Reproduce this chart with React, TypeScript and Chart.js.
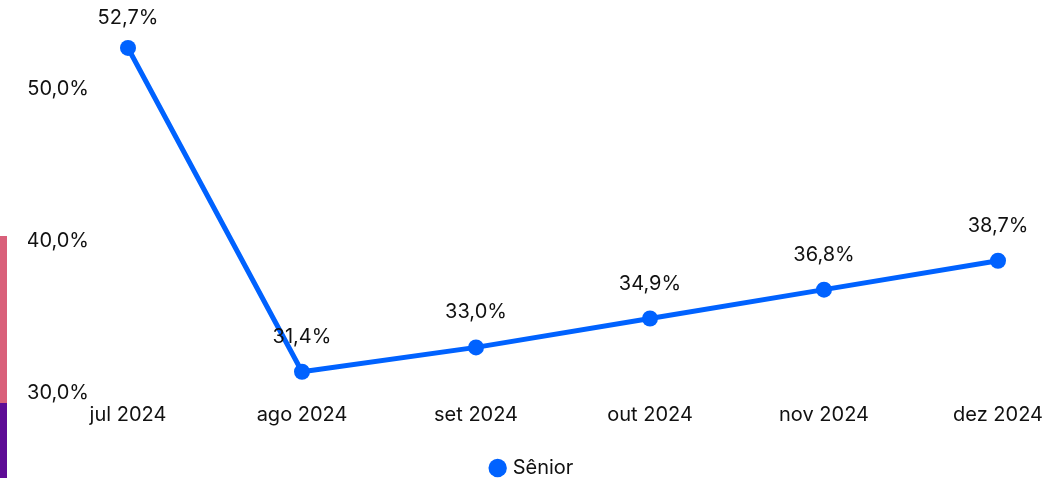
import React, { useEffect, useRef } from "react";
import { Chart, registerables } from "chart.js";

Chart.register(...registerables);

const categories = ["jul 2024", "ago 2024", "set 2024", "out 2024", "nov 2024", "dez 2024"];
const seniorValues = [52.7, 31.4, 33.0, 34.9, 36.8, 38.7];
const yTicks = [30, 40, 50];
const seriesName = "Sênior";

const fmt = (v: number) => v.toFixed(1).replace(".", ",") + "%";

const dataLabelPlugin = {
  id: "dataLabels",
  afterDatasetsDraw(chart: any) {
    const ctx = chart.ctx;
    const meta = chart.getDatasetMeta(0);
    ctx.save();
    ctx.font = "20px Inter";
    ctx.fillStyle = "#111111";
    ctx.textAlign = "center";
    ctx.textBaseline = "middle";
    meta.data.forEach((pt: any, i: number) => {
      const v = chart.data.datasets[0].data[i];
      let y = pt.y - 35;
      if (y < 18) y = 18;
      ctx.fillText(fmt(v), pt.x, y);
    });
    ctx.restore();
  },
};

const legendShiftPlugin = {
  id: "legendShift",
  afterLayout(chart: any) {
    if (chart.legend) {
      chart.legend.left += 20;
      chart.legend.right += 20;
    }
  },
};

export default function App() {
  const ref = useRef<HTMLCanvasElement>(null);
  useEffect(() => {
    if (!ref.current) return;
    Chart.defaults.font.family = "Inter";
    Chart.defaults.font.size = 20;
    Chart.defaults.color = "#111111";
    const chart = new Chart(ref.current, {
      type: "line",
      data: {
        labels: categories,
        datasets: [
          {
            label: seriesName,
            data: seniorValues,
            borderColor: "#0062FF",
            backgroundColor: "#0062FF",
            borderWidth: 5,
            pointRadius: 8,
            pointHoverRadius: 8,
            pointBorderWidth: 0,
            pointBackgroundColor: "#0062FF",
            pointBorderColor: "#0062FF",
            tension: 0,
            clip: false as any,
          },
        ],
      },
      options: {
        animation: false,
        responsive: false,
        maintainAspectRatio: false,
        layout: { autoPadding: false, padding: { top: 13, right: 50, left: 28, bottom: -10 } },
        plugins: {
          legend: {
            position: "bottom",
            labels: {
              usePointStyle: true,
              pointStyle: "circle",
              boxWidth: 10,
              boxHeight: 13,
              padding: 0,
              font: { size: 20 },
              color: "#111111",
              generateLabels: (c: any) =>
                Chart.defaults.plugins.legend.labels
                  .generateLabels(c)
                  .map((l: any) => ({ ...l, lineWidth: 0, fillStyle: "#0062FF" })),
            },
          },
          tooltip: { enabled: false },
        },
        scales: {
          x: {
            grid: { display: false, drawTicks: false },
            border: { display: false },
            ticks: { padding: 10, font: { size: 20 }, color: "#111111", maxRotation: 0 },
            afterFit: (axis: any) => {
              axis.height = 65;
              axis.paddingLeft = 0;
              axis.paddingRight = 0;
            },
          },
          y: {
            min: 30,
            max: 55,
            grid: { display: false, drawTicks: false },
            border: { display: false },
            afterBuildTicks: (axis: any) => {
              axis.ticks = yTicks.map((v) => ({ value: v }));
            },
            afterFit: (axis: any) => {
              axis.width = 100;
              axis.paddingTop = 0;
              axis.paddingBottom = 0;
            },
            ticks: {
              padding: 39,
              font: { size: 20 },
              color: "#111111",
              callback: (v: any) => fmt(Number(v)),
            },
          },
        },
      },
      plugins: [dataLabelPlugin, legendShiftPlugin],
    });
    return () => chart.destroy();
  }, []);
  return (
    <div style={{ position: "fixed", left: 0, top: 0, width: 1048, height: 478, background: "#fff" }}>
      <canvas ref={ref} width={1048} height={478} style={{ position: "absolute", left: 0, top: 0 }} />
      <div style={{ position: "absolute", left: 0, top: 236, width: 7, height: 167, background: "#D9607A" }} />
      <div style={{ position: "absolute", left: 0, top: 403, width: 7, height: 75, background: "#5E0C96" }} />
    </div>
  );
}
